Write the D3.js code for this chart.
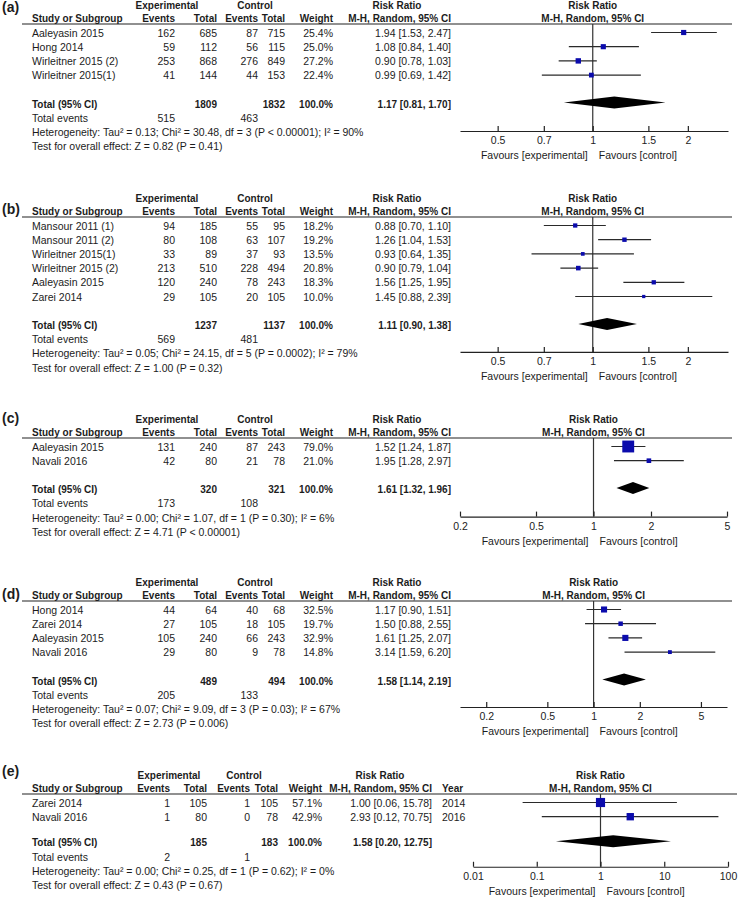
<!DOCTYPE html>
<html>
<head>
<meta charset="utf-8">
<script src="https://cdnjs.cloudflare.com/ajax/libs/d3/7.8.5/d3.min.js"></script>
<style>
    body { margin: 0; background: #fff; }
    svg text { font-family: "Liberation Sans", Arial, sans-serif; font-size: 10.5px; fill: #1c1c1c; }
    svg text.b { font-weight: bold; font-size: 10px; }
</style>
</head>
<body>
<svg id="chart" width="738" height="897"></svg>
<script>
// (a)
var namesA = ["Aaleyasin 2015", "Hong 2014", "Wirleitner 2015 (2)", "Wirleitner 2015(1)"];
var expEventsA = [162, 59, 253, 41];
var expTotalA = [685, 112, 868, 144];
var ctlEventsA = [87, 56, 276, 44];
var ctlTotalA = [715, 115, 849, 153];
var weightA = [25.4, 25.0, 27.2, 22.4];
var rrA = [1.94, 1.08, 0.90, 0.99];
var loA = [1.53, 0.84, 0.78, 0.69];
var hiA = [2.47, 1.40, 1.03, 1.42];
var totalA = [1809, 1832, 515, 463];         // exp total, ctl total, exp events, ctl events
var pooledA = [1.17, 0.81, 1.70];
var hetA = "Heterogeneity: Tau² = 0.13; Chi² = 30.48, df = 3 (P < 0.00001); I² = 90%";
var testA = "Test for overall effect: Z = 0.82 (P = 0.41)";
var ticksA = [0.5, 0.7, 1, 1.5, 2];

// (b)
var namesB = ["Mansour 2011 (1)", "Mansour 2011 (2)", "Wirleitner 2015(1)", "Wirleitner 2015 (2)", "Aaleyasin 2015", "Zarei 2014"];
var expEventsB = [94, 80, 33, 213, 120, 29];
var expTotalB = [185, 108, 89, 510, 240, 105];
var ctlEventsB = [55, 63, 37, 228, 78, 20];
var ctlTotalB = [95, 107, 93, 494, 243, 105];
var weightB = [18.2, 19.2, 13.5, 20.8, 18.3, 10.0];
var rrB = [0.88, 1.26, 0.93, 0.90, 1.56, 1.45];
var loB = [0.70, 1.04, 0.64, 0.79, 1.25, 0.88];
var hiB = [1.10, 1.53, 1.35, 1.04, 1.95, 2.39];
var totalB = [1237, 1137, 569, 481];
var pooledB = [1.11, 0.90, 1.38];
var hetB = "Heterogeneity: Tau² = 0.05; Chi² = 24.15, df = 5 (P = 0.0002); I² = 79%";
var testB = "Test for overall effect: Z = 1.00 (P = 0.32)";
var ticksB = [0.5, 0.7, 1, 1.5, 2];

// (c)
var namesC = ["Aaleyasin 2015", "Navali 2016"];
var expEventsC = [131, 42];
var expTotalC = [240, 80];
var ctlEventsC = [87, 21];
var ctlTotalC = [243, 78];
var weightC = [79.0, 21.0];
var rrC = [1.52, 1.95];
var loC = [1.24, 1.28];
var hiC = [1.87, 2.97];
var totalC = [320, 321, 173, 108];
var pooledC = [1.61, 1.32, 1.96];
var hetC = "Heterogeneity: Tau² = 0.00; Chi² = 1.07, df = 1 (P = 0.30); I² = 6%";
var testC = "Test for overall effect: Z = 4.71 (P < 0.00001)";
var ticksC = [0.2, 0.5, 1, 2, 5];

// (d)
var namesD = ["Hong 2014", "Zarei 2014", "Aaleyasin 2015", "Navali 2016"];
var expEventsD = [44, 27, 105, 29];
var expTotalD = [64, 105, 240, 80];
var ctlEventsD = [40, 18, 66, 9];
var ctlTotalD = [68, 105, 243, 78];
var weightD = [32.5, 19.7, 32.9, 14.8];
var rrD = [1.17, 1.50, 1.61, 3.14];
var loD = [0.90, 0.88, 1.25, 1.59];
var hiD = [1.51, 2.55, 2.07, 6.20];
var totalD = [489, 494, 205, 133];
var pooledD = [1.58, 1.14, 2.19];
var hetD = "Heterogeneity: Tau² = 0.07; Chi² = 9.09, df = 3 (P = 0.03); I² = 67%";
var testD = "Test for overall effect: Z = 2.73 (P = 0.006)";
var ticksD = [0.2, 0.5, 1, 2, 5];

// (e)
var namesE = ["Zarei 2014", "Navali 2016"];
var expEventsE = [1, 1];
var expTotalE = [105, 80];
var ctlEventsE = [1, 0];
var ctlTotalE = [105, 78];
var weightE = [57.1, 42.9];
var rrE = [1.00, 2.93];
var loE = [0.06, 0.12];
var hiE = [15.78, 70.75];
var yearsE = [2014, 2016];
var totalE = [185, 183, 2, 1];
var pooledE = [1.58, 0.20, 12.75];
var hetE = "Heterogeneity: Tau² = 0.00; Chi² = 0.25, df = 1 (P = 0.62); I² = 0%";
var testE = "Test for overall effect: Z = 0.43 (P = 0.67)";
var ticksE = [0.01, 0.1, 1, 10, 100];

function makePanel(label, names, ee, et, ce, ct, w, rr, lo, hi, tot, pooled, het, test, ticks, years) {
    return {
        label: label, het: het, test: test, ticks: ticks, tot: tot, pooled: pooled,
        rows: names.map(function(n, i) {
            return { name: n, ee: ee[i], et: et[i], ce: ce[i], ct: ct[i], w: w[i],
                     rr: rr[i], lo: lo[i], hi: hi[i], year: years ? years[i] : null };
        }),
        hasYear: !!years
    };
}

var panels = [
    makePanel("(a)", namesA, expEventsA, expTotalA, ctlEventsA, ctlTotalA, weightA, rrA, loA, hiA, totalA, pooledA, hetA, testA, ticksA),
    makePanel("(b)", namesB, expEventsB, expTotalB, ctlEventsB, ctlTotalB, weightB, rrB, loB, hiB, totalB, pooledB, hetB, testB, ticksB),
    makePanel("(c)", namesC, expEventsC, expTotalC, ctlEventsC, ctlTotalC, weightC, rrC, loC, hiC, totalC, pooledC, hetC, testC, ticksC),
    makePanel("(d)", namesD, expEventsD, expTotalD, ctlEventsD, ctlTotalD, weightD, rrD, loD, hiD, totalD, pooledD, hetD, testD, ticksD),
    makePanel("(e)", namesE, expEventsE, expTotalE, ctlEventsE, ctlTotalE, weightE, rrE, loE, hiE, totalE, pooledE, hetE, testE, ticksE, yearsE)
];

// layout of each panel: header rule y, label offset, gap before total row, axis gap, forest scale
var layouts = [
    { line: 24,  labelDy: -17,  gap: 2,   axisGap: 27,   domain: [0.38, 2.68],  range: [460, 728], ruleEnd: 732 },
    { line: 217, labelDy: -8,   gap: 2,   axisGap: 26.5, domain: [0.38, 2.68],  range: [460, 728], ruleEnd: 732 },
    { line: 438, labelDy: -20,  gap: 2,   axisGap: 27,   domain: [0.2, 5],      range: [460, 727], ruleEnd: 732 },
    { line: 601, labelDy: -7,   gap: 2,   axisGap: 26,   domain: [0.135, 7.39], range: [460, 727], ruleEnd: 732 },
    { line: 794, labelDy: -23,  gap: 1.8, axisGap: 24,   domain: [0.01, 100],   range: [473, 728], ruleEnd: 737 }
];

var colsStd = { study: 32, ee: 175, et: 217, ce: 258, ct: 285, w: 333, rr: 451, exp: 167, ctl: 255, rrHead: 397 };
var colsYear = { study: 32, ee: 170, et: 207, ce: 250, ct: 278, w: 322, rr: 432, exp: 169, ctl: 244, rrHead: 380, year: 442 };

var svg = d3.select("#chart");
var rowH = 14.2;
var f2 = d3.format(".2f"), f1 = d3.format(".1f");
var boxSize = d3.scaleLinear().domain([0, 80]).range([2, 12]);

function txt(g, x, y, s, anchor, bold) {
    return g.append("text")
        .attr("class", bold ? "b" : null)
        .attr("x", x).attr("y", y).attr("dy", "0.35em")
        .attr("text-anchor", anchor || "start")
        .text(s);
}

function ciText(r, lo, hi) {
    return f2(r) + " [" + f2(lo) + ", " + f2(hi) + "]";
}

function drawPanel(p, lay) {
    var g = svg.append("g");
    var c = p.hasYear ? colsYear : colsStd;
    var x = d3.scaleLog().domain(lay.domain).range(lay.range);
    var lineY = lay.line;
    var rowY = function(i) { return lineY + 9 + i * rowH; };
    var n = p.rows.length;
    var totalY = rowY(n - 1) + rowH * lay.gap;
    var axisY = totalY + lay.axisGap;

    g.append("text")
        .attr("x", 2).attr("y", lineY + lay.labelDy).attr("dy", "0.35em")
        .style("font-weight", "bold").style("font-size", "14px")
        .text(p.label);

    // headers
    var h1 = lineY - 18.5, h2 = lineY - 6;
    txt(g, c.exp, h1, "Experimental", "middle", true);
    txt(g, c.ctl, h1, "Control", "middle", true);
    txt(g, c.rrHead, h1, "Risk Ratio", "middle", true);
    txt(g, x(1), h1, "Risk Ratio", "middle", true);
    txt(g, c.study, h2, "Study or Subgroup", "start", true);
    txt(g, c.ee, h2, "Events", "end", true);
    txt(g, c.et, h2, "Total", "end", true);
    txt(g, c.ce, h2, "Events", "end", true);
    txt(g, c.ct, h2, "Total", "end", true);
    txt(g, c.w, h2, "Weight", "end", true);
    txt(g, c.rr, h2, "M-H, Random, 95% CI", "end", true);
    if (p.hasYear) txt(g, c.year, h2, "Year", "start", true);
    txt(g, x(1), h2, "M-H, Random, 95% CI", "middle", true);

    g.append("line")
        .attr("x1", 22).attr("x2", lay.ruleEnd)
        .attr("y1", lineY).attr("y2", lineY)
        .attr("stroke", "#222").attr("stroke-width", 1.2);

    // study rows
    p.rows.forEach(function(r, i) {
        var y = rowY(i);
        txt(g, c.study, y, r.name);
        txt(g, c.ee, y, r.ee, "end");
        txt(g, c.et, y, r.et, "end");
        txt(g, c.ce, y, r.ce, "end");
        txt(g, c.ct, y, r.ct, "end");
        txt(g, c.w, y, f1(r.w) + "%", "end");
        txt(g, c.rr, y, ciText(r.rr, r.lo, r.hi), "end");
        if (p.hasYear) txt(g, c.year, y, r.year);
    });

    // total rows
    txt(g, c.study, totalY, "Total (95% CI)", "start", true);
    txt(g, c.et, totalY, p.tot[0], "end", true);
    txt(g, c.ct, totalY, p.tot[1], "end", true);
    txt(g, c.w, totalY, "100.0%", "end", true);
    txt(g, c.rr, totalY, ciText(p.pooled[0], p.pooled[1], p.pooled[2]), "end", true);
    txt(g, c.study, totalY + rowH, "Total events");
    txt(g, c.ee, totalY + rowH, p.tot[2], "end");
    txt(g, c.ce, totalY + rowH, p.tot[3], "end");
    txt(g, c.study, totalY + rowH * 2, p.het);
    txt(g, c.study, totalY + rowH * 3, p.test);

    // line of no effect
    g.append("line")
        .attr("x1", x(1)).attr("x2", x(1))
        .attr("y1", lineY).attr("y2", axisY)
        .attr("stroke", "#333").attr("stroke-width", 1.2);

    // CIs and boxes
    g.selectAll(".ci").data(p.rows).enter().append("line")
        .attr("x1", function(d) { return x(d.lo); })
        .attr("x2", function(d) { return x(d.hi); })
        .attr("y1", function(d, i) { return rowY(i) - 0.5; })
        .attr("y2", function(d, i) { return rowY(i) - 0.5; })
        .attr("stroke", "#2a2a2a").attr("stroke-width", 1.2);

    g.selectAll(".box").data(p.rows).enter().append("rect")
        .attr("x", function(d) { return x(d.rr) - boxSize(d.w) / 2; })
        .attr("y", function(d, i) { return rowY(i) - 0.5 - boxSize(d.w) / 2; })
        .attr("width", function(d) { return boxSize(d.w); })
        .attr("height", function(d) { return boxSize(d.w); })
        .attr("fill", "#0b0bac");

    var dy = totalY - 1.5;
    g.append("path")
        .attr("d", "M" + x(p.pooled[1]) + "," + dy +
                   "L" + x(p.pooled[0]) + "," + (dy - 6) +
                   "L" + x(p.pooled[2]) + "," + dy +
                   "L" + x(p.pooled[0]) + "," + (dy + 6) + "Z")
        .attr("fill", "#000");

    // axis
    var axis = g.append("g")
        .attr("transform", "translate(0," + axisY + ")")
        .call(d3.axisBottom(x).tickValues(p.ticks).tickFormat(String)
            .tickSizeInner(-5).tickSizeOuter(0).tickPadding(6));
    axis.select(".domain").attr("stroke", "#222").attr("stroke-width", 1.2);
    axis.selectAll(".tick line").attr("stroke", "#222").attr("stroke-width", 1.2);
    axis.selectAll(".tick text").attr("fill", "#1c1c1c");

    txt(g, x(1) - 5, axisY + 24.5, "Favours [experimental]", "end");
    txt(g, x(1) + 6, axisY + 24.5, "Favours [control]", "start");
}

panels.forEach(function(p, i) { drawPanel(p, layouts[i]); });
</script>
</body>
</html>
